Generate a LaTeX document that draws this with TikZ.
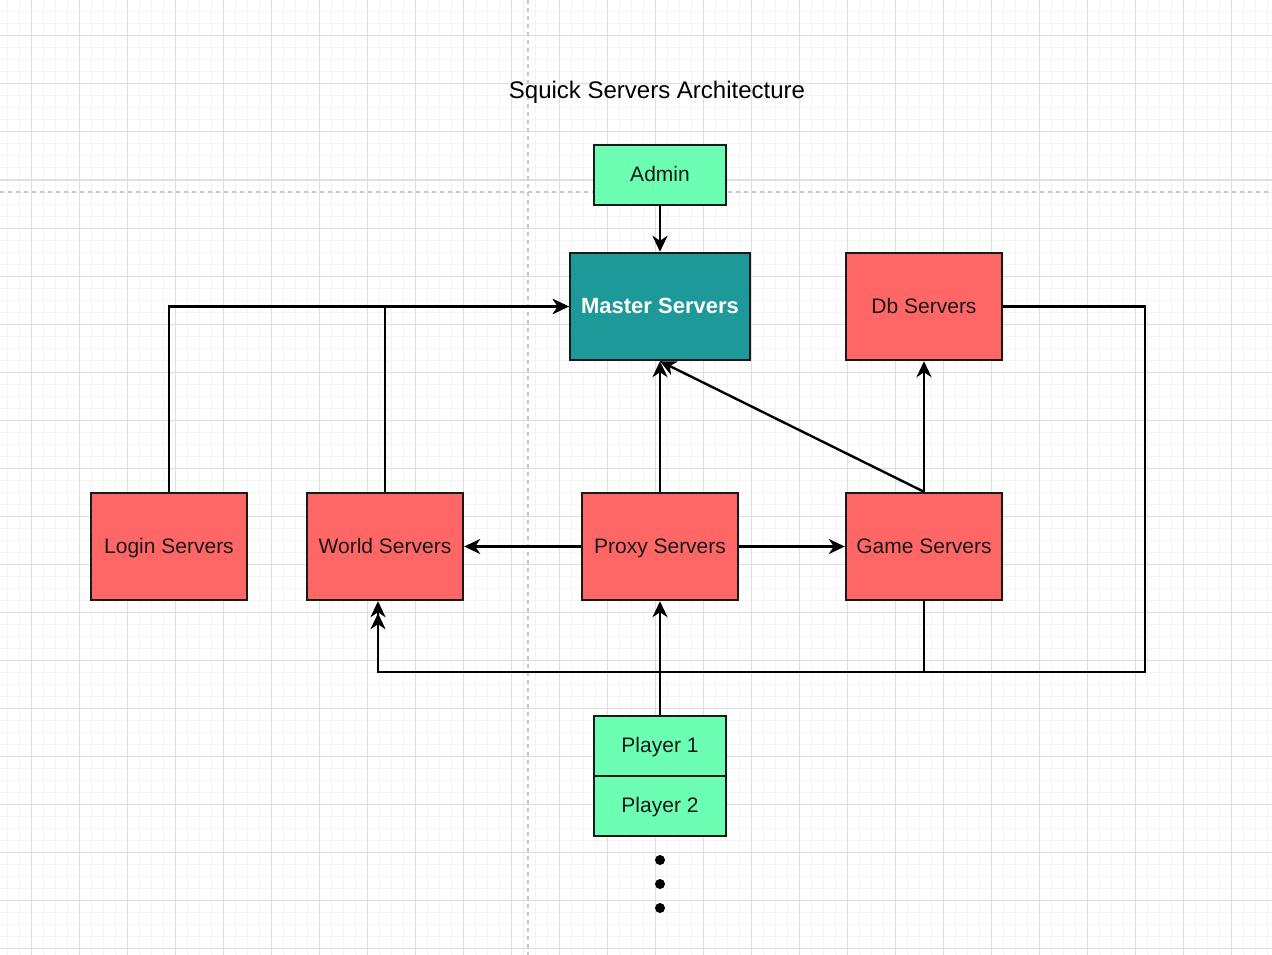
\documentclass[tikz,border=0pt]{standalone}
\usepackage{fontspec}
\setmainfont{Liberation Sans}
\usetikzlibrary{arrows.meta}
\definecolor{rojo}{HTML}{FF6666}
\definecolor{verde}{HTML}{6CFFB4}
\definecolor{turquesa}{HTML}{1E9999}
\definecolor{rejamenor}{HTML}{F3F3F3}
\definecolor{rejamayor}{HTML}{DEDEDE}
\definecolor{corte}{HTML}{C8C8C8}
\begin{document}
\begin{tikzpicture}[x=1pt,y=-1pt,
    caja/.style={draw=black!90,line width=2.4pt,inner sep=0pt,text=black!90,
      text height=16pt,text depth=3pt,font=\fontsize{21}{25}\selectfont},
    servidor/.style={caja,fill=rojo,minimum width=156pt,minimum height=107pt},
    cliente/.style={caja,fill=verde,minimum width=132pt,minimum height=60pt},
    flecha/.style={line width=2.4pt,draw=black,
      -{Stealth[length=16pt,width=15pt,inset=5pt]}}]
    \useasboundingbox (0,0) rectangle (1272,955);
    % Cuadrícula
    \fill[white] (0,0) rectangle (1272,955);
    \foreach \x in {7,19,...,1271} \draw[rejamenor,line width=1pt] (\x,0) -- (\x,955);
    \foreach \y in {0,12,...,955} \draw[rejamenor,line width=1pt] (0,\y) -- (1272,\y);
    \foreach \x in {31,79,...,1271} \draw[rejamayor,line width=1pt] (\x,0) -- (\x,955);
    \foreach \y in {36,84,...,955} \draw[rejamayor,line width=1pt] (0,\y) -- (1272,\y);
    % Cortes de página
    \draw[corte,line width=1.5pt,dash pattern=on 4pt off 4pt] (528,0) -- (528,955);
    \draw[corte,line width=1.5pt,dash pattern=on 4pt off 4pt] (0,192) -- (1272,192);
    % Título
    \node[font=\fontsize{24}{28}\selectfont] (titulo) at (657,92) {Squick Servers Architecture};
    % Servidores
    \node[cliente] (admin) at (660,175) {Admin};
    \node[servidor,fill=turquesa,minimum width=180pt,text=white,
      font=\fontsize{22}{26}\selectfont\bfseries] (master) at (660,306.5) {Master Servers};
    \node[servidor] (db) at (924,306.5) {Db Servers};
    \node[servidor] (login) at (169,546.5) {Login Servers};
    \node[servidor] (world) at (385,546.5) {World Servers};
    \node[servidor] (proxy) at (660,546.5) {Proxy Servers};
    \node[servidor] (game) at (924,546.5) {Game Servers};
    % Jugadores
    \node[cliente] (player1) at (660,746) {Player 1};
    \node[cliente] (player2) at (660,806) {Player 2};
    \foreach \y in {860,884,908} \fill (660,\y) circle[radius=5pt];
    % Conexiones
    \coordinate (esquina) at (1145,672);
    \coordinate (retorno) at ([xshift=-7pt,yshift=-12pt]world.south);
    \draw[flecha] (admin) -- (master);
    \draw[flecha] (login.north) |- (master.west);
    \draw[flecha] (world.north) |- (master.west);
    \draw[flecha] (proxy) -- (master);
    \draw[flecha] (game.north) -- (master.south);
    \draw[flecha] (game) -- (db);
    \draw[flecha] (proxy) -- (world);
    \draw[flecha] (proxy) -- (game);
    \draw[flecha] (player1) -- (proxy);
    \draw[flecha] (game.south) -- (game.south |- esquina) -| ([xshift=-7pt]world.south);
    \draw[flecha] (db.east) -| (esquina) -| (retorno);
\end{tikzpicture}
\end{document}
